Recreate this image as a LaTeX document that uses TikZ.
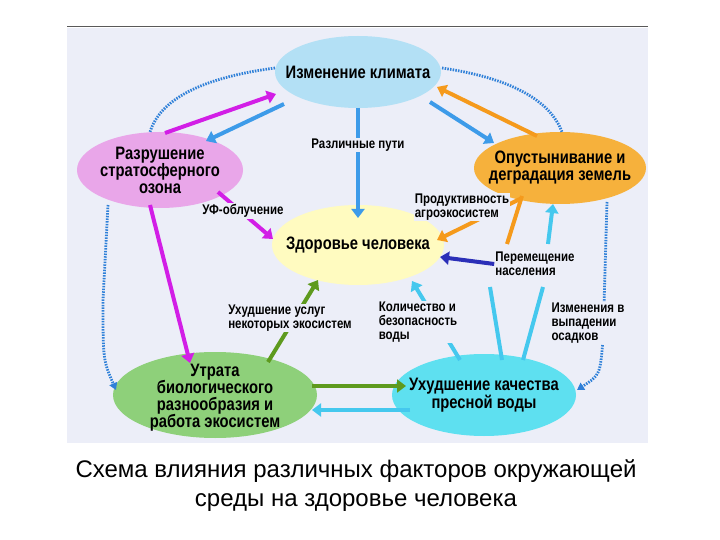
\documentclass[tikz,border=0pt]{standalone}
\usepackage{fontspec}
\setmainfont{Liberation Sans}
\newfontfamily\cond[FakeStretch=0.82]{Liberation Sans}
\usetikzlibrary{arrows.meta}
\definecolor{bg}{HTML}{ECEEF8}
\definecolor{cclim}{HTML}{B3E0F5}
\definecolor{coz}{HTML}{E9A6E9}
\definecolor{cdes}{HTML}{F6B13C}
\definecolor{chea}{HTML}{FFFBC0}
\definecolor{cbio}{HTML}{8ED07A}
\definecolor{cwat}{HTML}{5EE0F0}
\definecolor{ablue}{HTML}{3D9BE9}
\definecolor{dblue}{HTML}{2F80D8}
\definecolor{amag}{HTML}{D21EE6}
\definecolor{aor}{HTML}{F59A1C}
\definecolor{agr}{HTML}{5E9A1E}
\definecolor{acy}{HTML}{45C8EE}
\definecolor{adk}{HTML}{2B2FB8}
\tikzset{
 txt/.style={inner sep=0pt,align=center,font=\cond\bfseries\fontsize{18}{17}\selectfont},
 lab/.style={align=left,font=\cond\bfseries\fontsize{14}{14}\selectfont,fill=bg,inner sep=1pt},
 arr/.style={line width=4pt,draw=#1,-{Triangle[length=9pt,width=13pt]}},
 ln/.style={line width=4pt,draw=#1},
 dots/.style={draw=dblue,line width=2.8pt,dash pattern=on 1.5pt off 1.2pt},
 darr/.style={dots,-{Triangle[length=7pt,width=8pt,fill=dblue]}}
}
\begin{document}
\begin{tikzpicture}[x=1pt,y=-1pt]
\useasboundingbox (0,0) rectangle (720,540);
\fill[white] (0,0) rectangle (720,540);
\fill[bg] (67,28) rectangle (648,443);
\draw[gray!70!black,line width=1pt] (67,27) -- (648,27);
\fill[cclim] (358,72) ellipse [x radius=83, y radius=36];
\fill[coz] (160,170) ellipse [x radius=83, y radius=38];
\fill[cdes] (560,168) ellipse [x radius=86, y radius=36];
\fill[chea] (358,245) ellipse [x radius=86, y radius=40];
\fill[cbio] (215,395) ellipse [x radius=102, y radius=43];
\fill[cwat] (484,395) ellipse [x radius=92, y radius=41];
\node[txt] (clim) at (358,72) {Изменение климата};
\node[txt] (oz) at (160,170) {Разрушение\\стратосферного\\озона};
\node[txt] (des) at (560,168) {Опустынивание и\\деградация земель};
\node[txt] (hea) at (358,245) {Здоровье человека};
\node[txt] (bio) at (215,398) {Утрата\\биологического\\разнообразия и\\работа экосистем};
\node[txt] (wat) at (484,395) {Ухудшение качества\\пресной воды};
\coordinate (d1) at (275,68); \coordinate (d2) at (150,132);
\draw[dots] (d1) .. controls (200,78) and (160,100) .. (d2);
\coordinate (d3) at (442,68); \coordinate (d4) at (562,132);
\draw[dots] (d3) .. controls (510,78) and (550,100) .. (d4);
\coordinate (d5) at (108,205); \coordinate (d6) at (116,390);
\draw[darr] (d5) -- (103,300) .. controls (103,360) .. (d6);
\coordinate (d7) at (607,202); \coordinate (d8) at (577,390);
\draw[darr] (d7) -- (603,340) .. controls (600,375) .. (d8);
\node[lab] (osad) at (588,323) {Изменения в\\выпадении\\осадков};
\coordinate (a1) at (165,133); \coordinate (a2) at (276,94);
\draw[arr=amag] (a1) -- (a2);
\coordinate (b1) at (284,104); \coordinate (b2) at (206,141);
\draw[arr=ablue] (b1) -- (b2);
\coordinate (c1) at (358,108); \coordinate (c2) at (358,218);
\draw[arr=ablue] (c1) -- (c2);
\node[lab] (put) at (358,145) {Различные пути};
\coordinate (e1) at (430,102); \coordinate (e2) at (494,143);
\draw[arr=ablue] (e1) -- (e2);
\coordinate (f1) at (537,136); \coordinate (f2) at (437,87);
\draw[arr=aor] (f1) -- (f2);
\coordinate (g1) at (218,192); \coordinate (g2) at (273,239);
\draw[arr=amag] (g1) -- (g2);
\node[lab] (uf) at (243,211) {УФ-облучение};
\coordinate (h1) at (150,205); \coordinate (h2) at (190,363);
\draw[arr=amag] (h1) -- (h2);
\coordinate (i1) at (522,198); \coordinate (i2) at (437,240);
\draw[arr=aor] (i1) -- (i2);
\node[lab] (agro) at (462,207) {Продуктивность\\агроэкосистем};
\coordinate (j1) at (522,196);
\draw[ln=aor] (j1) -- (507,244);
\node[lab,fill=none] (per) at (535,264) {Перемещение\\населения};
\draw[arr=adk] (per.west) -- (440,257);
\coordinate (k1) at (502,360);
\draw[ln=acy] (k1) -- (490,287);
\coordinate (k2) at (523,360);
\draw[ln=acy] (k2) -- (543,287);
\coordinate (k3) at (548,244); \coordinate (k4) at (553,204);
\draw[arr=acy] (k3) -- (k4);
\coordinate (l1) at (460,360); \coordinate (l2) at (412,281);
\draw[arr=acy] (l1) -- (l2);
\node[lab] (kol) at (418,322) {Количество и\\безопасность\\воды};
\coordinate (m1) at (268,362); \coordinate (m2) at (318,280);
\draw[arr=agr] (m1) -- (m2);
\node[lab] (usl) at (290,318) {Ухудшение услуг\\некоторых экосистем};
\coordinate (n1) at (312,386); \coordinate (n2) at (406,386);
\draw[arr=agr] (n1) -- (n2);
\coordinate (o1) at (410,410); \coordinate (o2) at (312,410);
\draw[arr=acy] (o1) -- (o2);
\node[font=\fontsize{24}{29}\selectfont,align=center] (cap) at (356,486) {Схема влияния различных факторов окружающей\\среды на здоровье человека};
\end{tikzpicture}
\end{document}
